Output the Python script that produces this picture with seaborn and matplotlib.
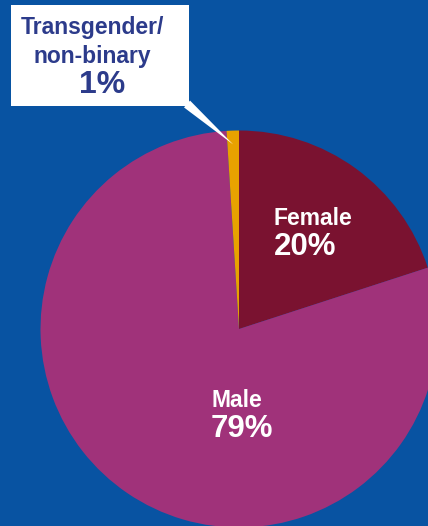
import matplotlib.pyplot as plt
import numpy as np
import seaborn as sns
from matplotlib.patches import Rectangle

labels = ["Female", "Male", "Transgender/\nnon-binary"]
shares = [20, 79, 1]
colors = ["#7a1230", "#a0327a", "#e8a200"]

bg = "#0853a2"
navy = "#2c3b8b"

sns.set_theme(style="white")
plt.rcParams["font.family"] = ["Liberation Sans", "DejaVu Sans"]

fig = plt.figure(figsize=(4.28, 5.26), dpi=100, facecolor=bg)
ax = fig.add_axes([0, 0, 1, 1])
ax.set_facecolor(bg)

wedges, _ = ax.pie(shares, colors=colors, startangle=90, counterclock=False,
                   radius=1, wedgeprops={"linewidth": 0})

r_px = 198.5
ax.set_xlim(-239 / r_px, (428 - 239) / r_px)
ax.set_ylim(-(526 - 329) / r_px, 329 / r_px)
ax.set_aspect("auto")
ax.axis("off")

# slice labels
ax.text(0.176, 0.559, labels[0], color="white", fontsize=16.5, fontweight="bold", ha="left", va="center")
ax.text(0.176, 0.415, f"{shares[0]}%", color="white", fontsize=22.5, fontweight="bold", ha="left", va="center")
ax.text(-0.141, -0.358, labels[1], color="white", fontsize=16.5, fontweight="bold", ha="left", va="center")
ax.text(-0.141, -0.505, f"{shares[1]}%", color="white", fontsize=22.5, fontweight="bold", ha="left", va="center")

# callout box for the small slice
fig.patches.append(Rectangle((11 / 428, 1 - 106 / 526), 178 / 428, 101 / 526,
                             transform=fig.transFigure, facecolor="white", edgecolor="none"))
w = wedges[2]
ang = np.deg2rad((w.theta1 + w.theta2) / 2)
tip = (0.93 * np.cos(ang), 0.93 * np.sin(ang))
ax.annotate("", xy=tip, xycoords="data", xytext=(187 / 428, 1 - 104 / 526), textcoords="figure fraction",
            arrowprops=dict(arrowstyle="wedge,tail_width=0.55,shrink_factor=0.5", fc="white", ec="none",
                            shrinkA=0, shrinkB=0))
fig.text(92 / 428, 1 - 42 / 526, labels[2], color=navy, fontsize=16.5, fontweight="bold",
         ha="center", va="center", linespacing=1.3)
fig.text(102 / 428, 1 - 85 / 526, f"{shares[2]}%", color=navy, fontsize=23, fontweight="bold",
         ha="center", va="center")

fig.savefig("out.png", dpi=100, facecolor=bg)
